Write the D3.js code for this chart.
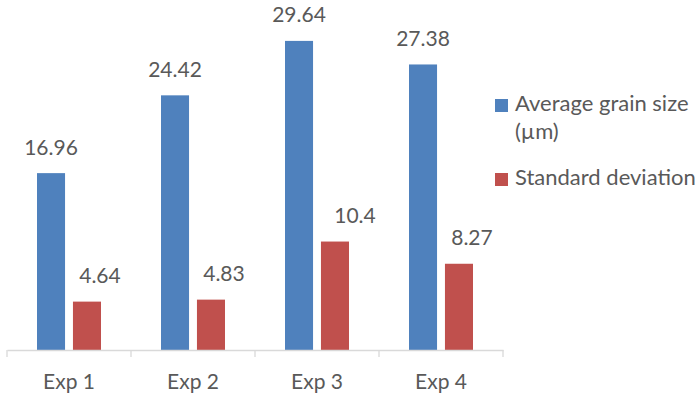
<!DOCTYPE html>
<html><head><meta charset="utf-8">
<script src="https://cdn.jsdelivr.net/npm/d3@7"></script>
<style>body{margin:0;background:#fff;} svg{display:block;}</style>
</head><body>
<script>
const categories = ["Exp 1", "Exp 2", "Exp 3", "Exp 4"];
const seriesNames = ["Average grain size (µm)", "Standard deviation"];
const avgGrainSize = [16.96, 24.42, 29.64, 27.38];
const stdDeviation = [4.64, 4.83, 10.4, 8.27];
const labelsAvg = ["16.96", "24.42", "29.64", "27.38"];
const labelsStd = ["4.64", "4.83", "10.4", "8.27"];
const colors = ["#4F81BD", "#C0504D"];

const W = 699, H = 396;
const svg = d3.select("body").append("svg").attr("width", W).attr("height", H);
const font = "Lato, 'Liberation Sans', sans-serif";

const x = d3.scaleBand().domain(categories).range([7, 503]).paddingInner(0).paddingOuter(0);
const y = d3.scaleLinear().domain([0, 35]).range([350, -15]);
const sub = d3.scaleBand().domain([0, 1]).range([30, 94]).paddingInner(0.22);

const series = [avgGrainSize, stdDeviation];
const labels = [labelsAvg, labelsStd];
const labelShift = [0, 13];

series.forEach((vals, si) => {
  const g = svg.append("g");
  g.selectAll("rect").data(vals).enter().append("rect")
    .attr("x", (d, i) => x(categories[i]) + sub(si))
    .attr("width", sub.bandwidth())
    .attr("y", d => y(d))
    .attr("height", d => y(0) - y(d))
    .attr("fill", colors[si]);
  g.selectAll("text").data(vals).enter().append("text")
    .attr("x", (d, i) => x(categories[i]) + sub(si) + sub.bandwidth() / 2 + labelShift[si] + (si === 1 && d >= 10 ? 7 : 0))
    .attr("y", d => y(d) - 18.5)
    .attr("text-anchor", "middle")
    .attr("font-family", font).attr("font-size", 21)
    .attr("fill", "#595959")
    .text((d, i) => labels[si][i]);
});

// axis
const axis = d3.axisBottom(x).tickSize(0).tickFormat(d => d);
const ax = svg.append("g").attr("transform", "translate(0,350)").call(axis);
ax.select(".domain").attr("stroke", "#D9D9D9").attr("stroke-width", 1.3);
ax.selectAll("text").attr("font-family", font).attr("font-size", 21).attr("fill", "#595959").attr("dy", null).attr("y", 39);
// boundary ticks
const bounds = categories.map(c => x(c)).concat([x.range()[1]]);
svg.append("g").selectAll("line").data(bounds).enter().append("line")
  .attr("x1", d => d).attr("x2", d => d).attr("y1", 350).attr("y2", 357)
  .attr("stroke", "#D9D9D9").attr("stroke-width", 1.3);

// legend
const leg = svg.append("g");
leg.append("rect").attr("x", 495).attr("y", 99).attr("width", 13).attr("height", 13).attr("fill", colors[0]);
leg.append("text").attr("x", 515).attr("y", 111).attr("font-family", font).attr("font-size", 22).attr("fill", "#595959").text("Average grain size");
leg.append("text").attr("x", 515).attr("y", 139).attr("font-family", font).attr("font-size", 22).attr("fill", "#595959").text("(µm)");
leg.append("rect").attr("x", 495).attr("y", 173).attr("width", 13).attr("height", 13).attr("fill", colors[1]);
leg.append("text").attr("x", 515).attr("y", 185).attr("font-family", font).attr("font-size", 22).attr("fill", "#595959").text(seriesNames[1]);
</script>
</body></html>
